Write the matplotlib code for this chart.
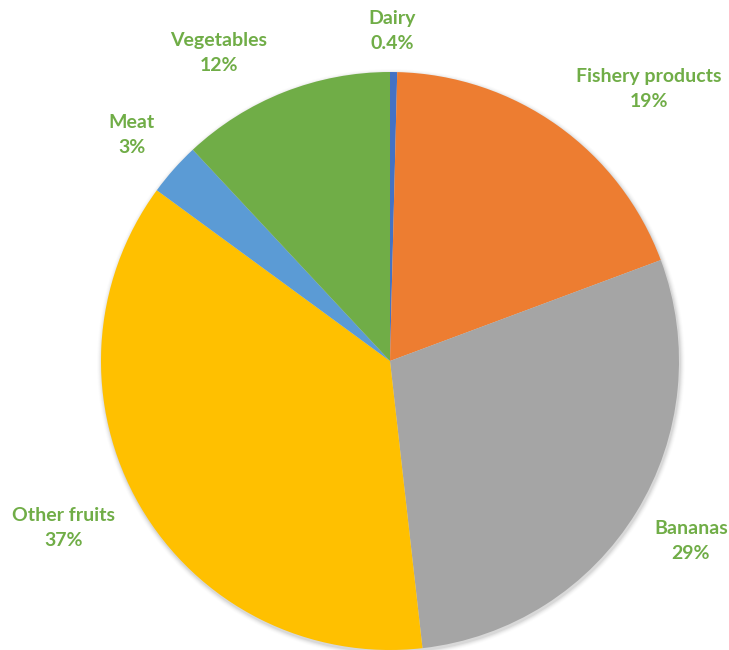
import matplotlib.pyplot as plt
import numpy as np
from matplotlib.patches import Circle

# food import shares, clockwise from 12 o'clock
categories = ['Dairy', 'Fishery products', 'Bananas', 'Other fruits', 'Meat', 'Vegetables']
shares = [0.4, 19, 29, 37, 3, 12]
pct_labels = ['0.4%', '19%', '29%', '37%', '3%', '12%']
colors = ['#4472C4', '#ED7D31', '#A5A5A5', '#FFC000', '#5B9BD5', '#70AD47']

# label anchors (pixels from top-left of the figure)
label_pos = [(392, 31), (649, 89), (691, 541), (64, 528), (132, 135), (219, 53)]

W, H = 729, 650
cx, cy, r = 390, 361, 289

fig = plt.figure(figsize=(W / 100, H / 100), dpi=100)
ax = fig.add_axes([0, 0, 1, 1])
ax.set_xlim(0, W)
ax.set_ylim(0, H)
ax.set_aspect('equal')
ax.axis('off')

# soft drop shadow behind the pie
for i, a in enumerate(np.linspace(0.05, 0.012, 5)):
    ax.add_patch(Circle((cx + 1, H - cy - 2), r + 1 + i, color='black', alpha=a, lw=0, zorder=0))

ax.pie(shares, colors=colors, startangle=90, counterclock=False,
       center=(cx, H - cy), radius=r, frame=True,
       wedgeprops=dict(linewidth=0, zorder=1))
ax.set_xlim(0, W)
ax.set_ylim(0, H)
ax.axis('off')

for name, pct, (x, y) in zip(categories, pct_labels, label_pos):
    ax.text(x, H - y, f'{name}\n{pct}', ha='center', va='center',
            color='#70AD47', fontsize=14, fontweight='bold', family='Lato',
            linespacing=1.55)

fig.savefig('out.png', dpi=100)
